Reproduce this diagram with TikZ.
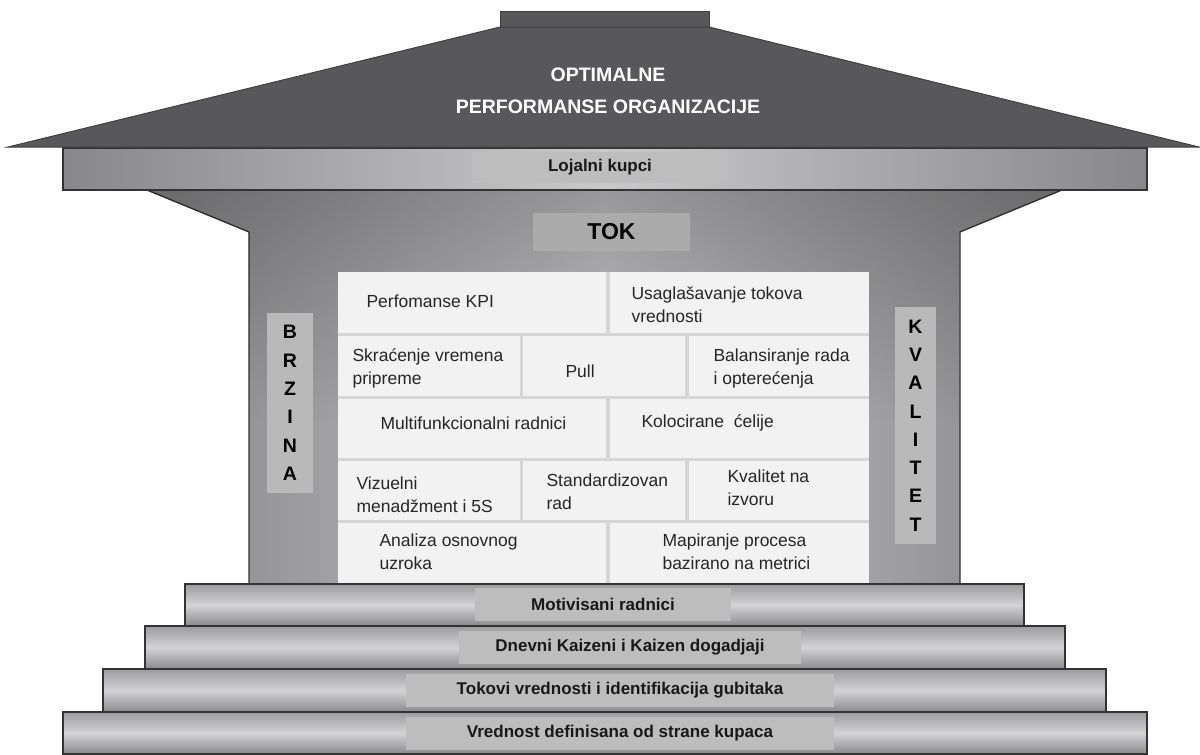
\documentclass[tikz,border=0pt]{standalone}
\usepackage{fontspec}
\setmainfont{Liberation Sans}
\usetikzlibrary{fadings}
\begin{document}
\begin{tikzpicture}[x=1pt,y=-1pt,
  outline/.style={draw=black!80,line width=1.3pt},
  roofshape/.style={fill=roofgray,draw=black!75,line width=1pt},
  lintelshape/.style={outline,left color=g1,right color=g1,middle color=g2},
  bodyshape/.style={outline,left color=g1,right color=g1,middle color=g3},
  stepshape/.style={outline,top color=s1,bottom color=s3,middle color=s2},
  tagbox/.style={fill=tag,inner sep=0pt},
  bricktext/.style={anchor=west,align=left,font=\fontsize{17.5}{23}\selectfont,text=black!85},
  steptext/.style={font=\bfseries\fontsize{17}{19}\selectfont,text=black!90},
  pillar/.style={fill=pil,inner sep=0pt},
  pillartext/.style={font=\bfseries\fontsize{19.5}{28.3}\selectfont,align=center}
]
\definecolor{roofgray}{HTML}{58585A}
\definecolor{g1}{HTML}{88888A}
\definecolor{g2}{HTML}{C9C9CB}
\definecolor{g3}{HTML}{C4C4C6}
\definecolor{s1}{HTML}{9C9C9E}
\definecolor{s2}{HTML}{D3D3D5}
\definecolor{s3}{HTML}{8A8A8C}
\definecolor{tag}{HTML}{BDBDBD}
\definecolor{pil}{HTML}{B9B9BA}
\definecolor{brick}{HTML}{F2F2F2}
\definecolor{mortar}{HTML}{D6D6D6}

\useasboundingbox (0,0) rectangle (1200,755);
\fill[white] (0,0) rectangle (1200,755);

% house body below the lintel, darker towards the top
\path[bodyshape] (147,190) -- (249,232) -- (249,584) -- (960,584) -- (960,232) -- (1062,190) -- cycle;
\fill[black,opacity=0.22,path fading=south] (148,191) -- (249,232) -- (249,420) -- (960,420) -- (960,232) -- (1061,191) -- cycle;

% lintel
\path[lintelshape] (63,148) rectangle (1147,190);
\node[tagbox,minimum width=256pt,minimum height=31pt] (lintag) at (600,167.5) {};
\node[steptext] (loyal) at (lintag) {Lojalni kupci};

% chimney and roof
\path[roofshape] (500,11) rectangle (709,30);
\path[roofshape] (8,147) -- (500,27) -- (709,27) -- (1199,147) -- cycle;
\node[text=white,align=center,font=\bfseries\fontsize{19.5}{32}\selectfont] (goal) at (608,91)
  {OPTIMALNE\\PERFORMANSE ORGANIZACIJE};

% flow label
\node[tagbox,fill=black!33,minimum width=157pt,minimum height=38pt] (tokbox) at (611.5,232) {};
\node[font=\bfseries\fontsize{23}{26}\selectfont] (tok) at (tokbox) {TOK};

% side pillars
\node[pillar,minimum width=46pt,minimum height=180pt] (speedbox) at (290,403) {};
\node[pillartext] (speed) at (speedbox) {B\\R\\Z\\I\\N\\A};
\node[pillar,minimum width=41pt,minimum height=237pt] (qualbox) at (915.5,425.5) {};
\node[pillartext] (qual) at (qualbox) {K\\V\\A\\L\\I\\T\\E\\T};

% brick wall
\fill[mortar] (338,272) rectangle (869,584);
\fill[brick] (338,272) rectangle (606,333);
\fill[brick] (610,272) rectangle (869,333);
\fill[brick] (338,336) rectangle (520,396);
\fill[brick] (523,336) rectangle (685,396);
\fill[brick] (689,336) rectangle (869,396);
\fill[brick] (338,399) rectangle (606,458);
\fill[brick] (610,399) rectangle (869,458);
\fill[brick] (338,461) rectangle (520,520);
\fill[brick] (523,461) rectangle (685,520);
\fill[brick] (689,461) rectangle (869,520);
\fill[brick] (338,523) rectangle (606,584);
\fill[brick] (610,523) rectangle (869,584);

\node[bricktext] (kpi) at (363,301) {Perfomanse KPI};
\node[bricktext] (align) at (628,305) {Usaglašavanje tokova\\vrednosti};
\node[bricktext] (setup) at (349,368) {Skraćenje vremena\\pripreme};
\node[bricktext] (pull) at (562,371) {Pull};
\node[bricktext] (balance) at (710,368) {Balansiranje rada\\i opterećenja};
\node[bricktext] (multi) at (377,423) {Multifunkcionalni radnici};
\node[bricktext] (cells) at (638,423) {Kolocirane\ \ ćelije};
\node[bricktext] (visual) at (353,495) {Vizuelni\\menadžment i 5S};
\node[bricktext] (std) at (543,492) {Standardizovan\\rad};
\node[bricktext] (source) at (724,488) {Kvalitet na\\izvoru};
\node[bricktext] (root) at (376,552) {Analiza osnovnog\\uzroka};
\node[bricktext] (map) at (659,552) {Mapiranje procesa\\bazirano na metrici};

% foundation steps
\path[stepshape] (185,584) rectangle (1024,626);
\node[tagbox,minimum width=256pt,minimum height=33pt] (t1) at (603,604) {};
\node[steptext] (motiv) at (t1) {Motivisani radnici};

\path[stepshape] (145,626) rectangle (1065,669);
\node[tagbox,minimum width=342pt,minimum height=33pt] (t2) at (630,647) {};
\node[steptext] (kaizen) at (t2) {Dnevni Kaizeni i Kaizen dogadjaji};

\path[stepshape] (103,669) rectangle (1106,712);
\node[tagbox,minimum width=428pt,minimum height=33pt] (t3) at (620,690) {};
\node[steptext] (streams) at (t3) {Tokovi vrednosti i identifikacija gubitaka};

\path[stepshape] (63,712) rectangle (1147,754);
\node[tagbox,minimum width=428pt,minimum height=33pt] (t4) at (620,733) {};
\node[steptext] (value) at (t4) {Vrednost definisana od strane kupaca};
\end{tikzpicture}
\end{document}
